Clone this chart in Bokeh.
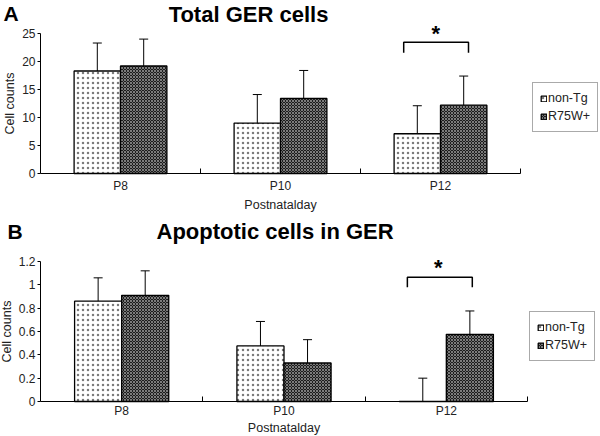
from bokeh.plotting import figure
from bokeh.layouts import column
from bokeh.models import (ColumnDataSource, FixedTicker, Label, Legend, LegendItem,
                          NumeralTickFormatter, Range1d, Whisker, TeeHead)
from bokeh.embed import file_html
from bokeh.resources import INLINE

# ---------------- data ----------------
days = ["P8", "P10", "P12"]
groups = ["non-Tg", "R75W+"]

total_nontg = [18.3, 9.0, 7.1]
total_nontg_err = [5.0, 5.1, 5.0]
total_r75w = [19.2, 13.4, 12.2]
total_r75w_err = [4.8, 5.0, 5.2]
total_ticks = [0, 5, 10, 15, 20, 25]

apop_nontg = [0.86, 0.476, 0.0]
apop_nontg_err = [0.20, 0.21, 0.20]
apop_r75w = [0.91, 0.33, 0.576]
apop_r75w_err = [0.21, 0.20, 0.20]
apop_ticks = [0, 0.2, 0.4, 0.6, 0.8, 1.0, 1.2]

TEXT = "#222222"
BAR_W = 0.29
FONT = "Liberation Sans"
W = 600


def make_panel(letter, title, v1, e1, v2, e2, yticks, cfg):
    ymax = yticks[-1]
    p = figure(width=W, height=cfg["height"], output_backend="svg", toolbar_location=None,
               x_range=Range1d(cfg["x0"], cfg["x1"]), y_range=Range1d(cfg["y0"], cfg["y_end"]),
               min_border_left=0, min_border_right=0, min_border_top=0, min_border_bottom=0)
    p.outline_line_color = None
    p.xgrid.visible = False
    p.ygrid.visible = False

    idx = list(range(len(days)))
    x1 = [i + 0.5 - BAR_W / 2 for i in idx]
    x2 = [i + 0.5 + BAR_W / 2 for i in idx]
    s1 = ColumnDataSource(dict(x=x1, top=v1, upper=[a + b for a, b in zip(v1, e1)], lower=v1))
    s2 = ColumnDataSource(dict(x=x2, top=v2, upper=[a + b for a, b in zip(v2, e2)], lower=v2))

    for s in (s1, s2):
        w = Whisker(base="x", upper="upper", lower="lower", source=s, dimension="height",
                    line_color="black", line_width=1,
                    upper_head=TeeHead(size=9, line_color="black", line_width=1), lower_head=None)
        p.add_layout(w)

    r1 = p.vbar(x="x", top="top", width=BAR_W, bottom=0, source=s1,
                fill_color="white", line_color="black", line_width=1.3,
                hatch_pattern="dot", hatch_color="#7a7a7a", hatch_scale=5, hatch_weight=1.3)
    r2 = p.vbar(x="x", top="top", width=BAR_W, bottom=0, source=s2,
                fill_color="#1c1c1c", line_color="black", line_width=1.3,
                hatch_pattern="diagonal_cross", hatch_color="#7c7c7c", hatch_scale=3, hatch_weight=1)

    # y axis (drawn at x = 0 inside the frame)
    yax = p.yaxis[0]
    yax.fixed_location = 0
    yax.ticker = FixedTicker(ticks=yticks, minor_ticks=[])
    yax.bounds = (0, ymax)
    yax.formatter = NumeralTickFormatter(format="0.[0]")
    yax.major_tick_out = 3
    yax.major_tick_in = 0
    yax.major_label_standoff = 2
    yax.axis_label = "Cell counts"
    yax.axis_label_standoff = 2
    yax.major_tick_line_color = "black"
    # x axis (drawn at y = 0 inside the frame)
    xax = p.xaxis[0]
    xax.fixed_location = 0
    xax.ticker = FixedTicker(ticks=[i + 0.5 for i in idx], minor_ticks=[i + 1 for i in idx])
    xax.major_label_overrides = {i + 0.5: d for i, d in zip(idx, days)}
    xax.bounds = (0, len(days))
    xax.major_tick_line_color = None
    xax.major_tick_out = 0
    xax.major_tick_in = 0
    xax.minor_tick_in = 5
    xax.minor_tick_out = 0
    xax.major_label_standoff = cfg["xstand"]
    xax.axis_label = "Postnatalday"
    xax.axis_label_standoff = cfg["xlstand"]
    for ax in (xax, yax):
        ax.axis_line_color = "black"
        ax.axis_line_width = 1
        ax.minor_tick_line_color = "black"
        ax.major_label_text_font = FONT
        ax.major_label_text_font_size = "12px"
        ax.major_label_text_color = TEXT
        ax.axis_label_text_font = FONT
        ax.axis_label_text_font_size = "12.5px"
        ax.axis_label_text_font_style = "normal"
        ax.axis_label_text_color = TEXT

    # titles
    p.add_layout(Label(x=cfg["title_x"], y=cfg["title_y"], text=title, text_align="center",
                       text_baseline=cfg["title_base"], text_font=FONT, text_font_style="bold",
                       text_font_size="22px", text_color="black"))
    p.add_layout(Label(x=cfg["letter_x"], y=cfg["title_y"], text=letter, text_align="left",
                       text_baseline=cfg["title_base"], text_font=FONT, text_font_style="bold",
                       text_font_size="21px", text_color="black"))
    # significance bracket
    bx0, bx1 = cfg["br_x"]
    btop, bleg = cfg["br_y"]
    p.line([bx0, bx0, bx1, bx1], [bleg, btop, btop, bleg], line_color="black", line_width=1.5)
    p.add_layout(Label(x=cfg["star"][0], y=cfg["star"][1], text="*", text_align="center",
                       text_baseline="middle", text_font=FONT, text_font_style="bold",
                       text_font_size="22px", text_color="black"))

    legend = Legend(items=[LegendItem(label=groups[0], renderers=[r1]),
                           LegendItem(label=groups[1], renderers=[r2])],
                    location=cfg["legend"], orientation="vertical")
    legend.label_text_font = FONT
    legend.label_text_font_size = "12.5px"
    legend.label_text_color = TEXT
    legend.glyph_width = 7
    legend.glyph_height = 7
    legend.label_height = 16
    legend.label_standoff = 1
    legend.padding = 7
    legend.spacing = 2
    legend.margin = 0
    legend.border_line_color = "#555555"
    legend.border_line_width = 1
    legend.background_fill_alpha = 1
    p.add_layout(legend)
    return p


SB = 116.67  # px per unit in panel B
cfgA = dict(height=212, y0=-39 / 5.6, y_end=25 + 33 / 5.6, xstand=5, xlstand=2,
            x0=-40 / 160, x1=560 / 160,
            title_x=1.30, title_y=25 + 32 / 5.6, title_base="top", letter_x=-37 / 160,
            br_x=(2.27, 2.675), br_y=(23.45, 21.55), star=(2.47, 25.0), legend=(532, 80))
cfgB = dict(height=224, y0=-35 / SB, y_end=1.2 + 49 / SB, xstand=2, xlstand=0,
            x0=-40 / 162.33, x1=560 / 162.33,
            title_x=1.445, title_y=1.453, title_base="middle", letter_x=-33 / 162.33,
            br_x=(2.26, 2.66), br_y=(1.065, 0.98), star=(2.45, 1.149), legend=(529, 75))

pA = make_panel("A", "Total GER cells", total_nontg, total_nontg_err, total_r75w, total_r75w_err,
                total_ticks, cfgA)
pB = make_panel("B", "Apoptotic cells in GER", apop_nontg, apop_nontg_err, apop_r75w, apop_r75w_err,
                apop_ticks, cfgB)

layout = column(pA, pB, spacing=0)
open("out.html", "w").write(file_html(layout, INLINE))
